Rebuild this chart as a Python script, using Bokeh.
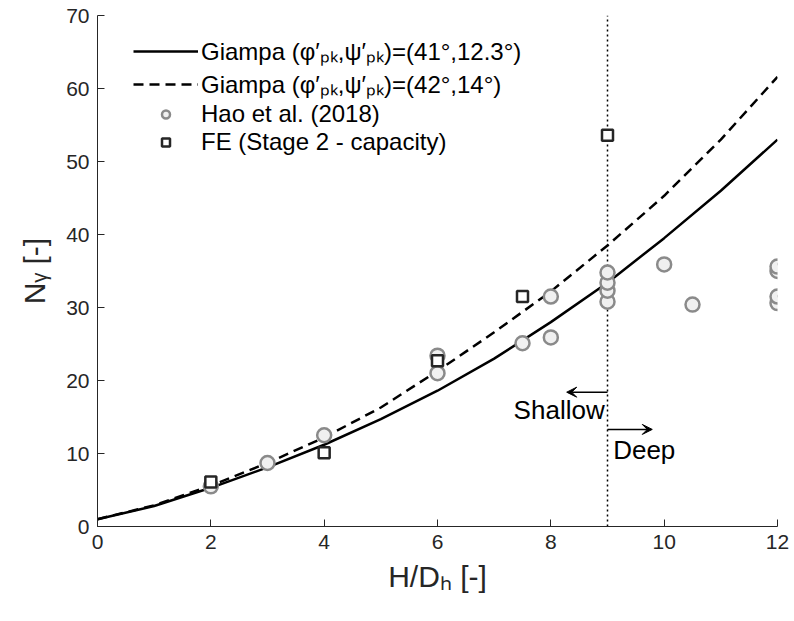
from bokeh.plotting import figure
from bokeh.models import Range1d, FixedTicker, Arrow, VeeHead, Label, Legend, LegendItem
from bokeh.embed import file_html
from bokeh.resources import INLINE

# ---- data ----
x_curve = [0, 1, 2, 3, 4, 5, 6, 7, 8, 9, 10, 11, 12]
giampa_41 = [1.0, 2.8, 5.3, 8.1, 11.2, 14.7, 18.6, 23.0, 28.0, 33.4, 39.5, 46.0, 53.0]
giampa_42 = [1.0, 2.9, 5.6, 8.7, 12.2, 16.3, 21.3, 26.6, 32.2, 38.5, 45.3, 53.0, 61.6]

hao_x = [2, 3, 4, 6, 6, 7.5, 8, 8, 9, 9, 9, 9, 10, 10.5, 12, 12, 12, 12]
hao_y = [5.5, 8.7, 12.5, 21.0, 23.4, 25.1, 25.9, 31.5, 30.8, 32.3, 33.4, 34.8,
         35.9, 30.4, 30.6, 31.5, 35.0, 35.6]

fe_x = [2, 4, 6, 7.5, 9]
fe_y = [6.1, 10.1, 22.7, 31.5, 53.6]

x_ticks = [0, 2, 4, 6, 8, 10, 12]
y_ticks = [0, 10, 20, 30, 40, 50, 60, 70]
boundary_x = 9

legend_labels = ["Giampa (φ′ₚₖ,ψ′ₚₖ)=(41°,12.3°)",
                 "Giampa (φ′ₚₖ,ψ′ₚₖ)=(42°,14°)",
                 "Hao et al. (2018)",
                 "FE (Stage 2 - capacity)"]

AX = "#262626"
FONT = "Liberation Sans"

p = figure(width=790, height=613, output_backend="svg", toolbar_location=None,
           x_range=Range1d(0, 12), y_range=Range1d(0, 70),
           min_border_left=97, min_border_right=13, min_border_top=15, min_border_bottom=87)
p.outline_line_color = None
p.grid.visible = False
p.background_fill_color = "white"
p.border_fill_color = "white"

for ax, ticks in ((p.xaxis[0], x_ticks), (p.yaxis[0], y_ticks)):
    ax.ticker = FixedTicker(ticks=ticks)
    ax.minor_tick_line_color = None
    ax.major_tick_in = 7
    ax.major_tick_out = 0
    ax.axis_line_color = AX
    ax.major_tick_line_color = AX
    ax.major_label_text_color = AX
    ax.major_label_text_font = FONT
    ax.major_label_text_font_size = "21px"
    ax.axis_label_text_font = FONT
    ax.axis_label_text_font_size = "30px"
    ax.axis_label_text_font_style = "normal"
    ax.axis_label_text_color = AX

p.xaxis.axis_label = "H/Dₕ [-]"
p.yaxis.axis_label = "Nᵧ [-]"
p.xaxis.major_label_standoff = 8
p.yaxis.major_label_standoff = 8
p.xaxis.axis_label_standoff = 8
p.yaxis.axis_label_standoff = 12

# boundary line
p.segment(x0=[boundary_x], y0=[y_ticks[0]], x1=[boundary_x], y1=[y_ticks[-1]],
          line_color="black", line_width=1.5, line_dash="2 3")

l1 = p.line(x_curve, giampa_41, line_color="black", line_width=2.5)
l2 = p.line(x_curve, giampa_42, line_color="black", line_width=2.5, line_dash="10 6")
s1 = p.scatter(hao_x, hao_y, marker="circle", size=14, line_color="#8a8a8a",
               line_width=2.5, fill_color="#f0f0f0")
s2 = p.scatter(fe_x, fe_y, marker="square", size=11, line_color="#262626",
               line_width=2.5, fill_color="white")

# arrows + labels
p.add_layout(Arrow(end=VeeHead(size=10, fill_color="black", line_color="black"),
                   x_start=boundary_x, y_start=18.4, x_end=8.28, y_end=18.4,
                   line_color="black", line_width=1.5))
p.add_layout(Arrow(end=VeeHead(size=10, fill_color="black", line_color="black"),
                   x_start=boundary_x, y_start=13.3, x_end=9.79, y_end=13.3,
                   line_color="black", line_width=1.5))
p.add_layout(Label(x=8.95, y=15.9, text="Shallow", text_align="right", text_baseline="middle",
                   text_font=FONT, text_font_size="26px", text_color="black"))
p.add_layout(Label(x=9.1, y=10.5, text="Deep", text_align="left", text_baseline="middle",
                   text_font=FONT, text_font_size="26px", text_color="black"))

legend = Legend(items=[LegendItem(label=lab, renderers=[r])
                       for lab, r in zip(legend_labels, [l1, l2, s1, s2])],
                location=(36, 370), glyph_width=65, glyph_height=20, label_height=20,
                label_standoff=3, spacing=0, padding=0, margin=0,
                label_text_font=FONT, label_text_font_size="24px", label_text_color="black",
                border_line_color=None, background_fill_alpha=0)
p.add_layout(legend)

open("out.html", "w").write(file_html(p, INLINE))
